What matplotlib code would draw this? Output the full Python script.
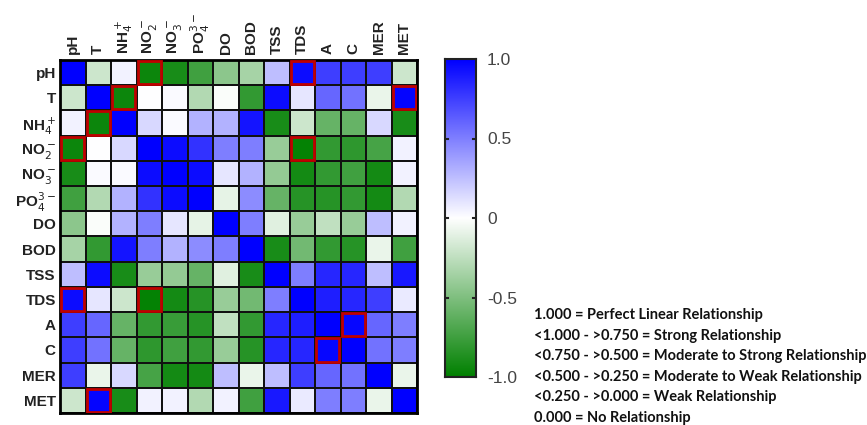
import numpy as np
import matplotlib
matplotlib.use("Agg")
import matplotlib.pyplot as plt
from matplotlib.colors import LinearSegmentedColormap
from matplotlib.patches import Rectangle

labels = ["pH", "T", "NH$_4^+$", "NO$_2^-$", "NO$_3^-$", "PO$_4^{3-}$", "DO", "BOD",
          "TSS", "TDS", "A", "C", "MER", "MET"]

r_pH  = [1.00, -0.20, 0.05, -0.95, -0.90, -0.75, -0.45, -0.35, 0.25, 0.95, 0.75, 0.75, 0.75, -0.20]
r_T   = [-0.20, 1.00, -0.95, 0.00, 0.02, -0.30, -0.02, -0.80, 0.95, 0.10, 0.60, 0.55, -0.08, 0.98]
r_NH4 = [0.05, -0.95, 1.00, 0.15, 0.02, 0.30, 0.30, 0.92, -0.90, -0.20, -0.60, -0.60, 0.15, -0.90]
r_NO2 = [-0.95, 0.00, 0.15, 1.00, 0.95, 0.80, 0.50, 0.50, -0.40, -0.98, -0.80, -0.82, -0.72, 0.05]
r_NO3 = [-0.90, 0.02, 0.02, 0.95, 1.00, 0.95, 0.10, 0.30, -0.42, -0.92, -0.80, -0.75, -0.92, 0.05]
r_PO4 = [-0.75, -0.30, 0.30, 0.80, 0.95, 1.00, -0.10, 0.45, -0.60, -0.85, -0.85, -0.80, -0.92, -0.30]
r_DO  = [-0.45, -0.02, 0.30, 0.50, 0.10, -0.10, 1.00, 0.50, -0.12, -0.40, -0.25, -0.40, 0.25, 0.05]
r_BOD = [-0.35, -0.80, 0.92, 0.50, 0.30, 0.45, 0.50, 1.00, -0.90, -0.55, -0.80, -0.85, -0.08, -0.75]
r_TSS = [0.25, 0.95, -0.90, -0.40, -0.42, -0.60, -0.12, -0.90, 1.00, 0.50, 0.85, 0.85, 0.25, 0.90]
r_TDS = [0.95, 0.10, -0.20, -0.98, -0.92, -0.85, -0.40, -0.55, 0.50, 1.00, 0.88, 0.85, 0.75, 0.08]
r_A   = [0.75, 0.60, -0.60, -0.80, -0.78, -0.85, -0.25, -0.80, 0.85, 0.88, 1.00, 0.97, 0.60, 0.50]
r_C   = [0.75, 0.55, -0.60, -0.82, -0.75, -0.80, -0.40, -0.85, 0.85, 0.85, 0.97, 1.00, 0.55, 0.50]
r_MER = [0.75, -0.08, 0.15, -0.72, -0.92, -0.92, 0.25, -0.08, 0.25, 0.75, 0.60, 0.55, 1.00, -0.08]
r_MET = [-0.20, 0.98, -0.90, 0.05, 0.05, -0.30, 0.05, -0.75, 0.90, 0.08, 0.50, 0.50, -0.08, 1.00]

# highlighted cells (row, col)
highlight = [(0, 3), (0, 9), (1, 2), (1, 13), (2, 1), (3, 0), (3, 9),
             (9, 0), (9, 3), (10, 11), (11, 10), (13, 1)]

legend_lines = ["1.000 = Perfect Linear Relationship",
                "<1.000 - >0.750 = Strong Relationship",
                "<0.750 - >0.500 = Moderate to Strong Relationship",
                "<0.500 - >0.250 = Moderate to Weak Relationship",
                "<0.250 - >0.000 = Weak Relationship",
                "0.000 = No Relationship"]

M = np.array([r_pH, r_T, r_NH4, r_NO2, r_NO3, r_PO4, r_DO, r_BOD,
              r_TSS, r_TDS, r_A, r_C, r_MER, r_MET])
n = len(labels)

cmap = LinearSegmentedColormap.from_list("gwb", [(0.0, "#008000"), (0.5, "#ffffff"), (1.0, "#0000ff")])

plt.rcParams['font.family'] = ['Liberation Sans', 'DejaVu Sans']
fig = plt.figure(figsize=(8.67, 4.25), dpi=100)
ax = fig.add_axes([60/867, 1-413/425, 357/867, 353/425])
mesh = ax.pcolormesh(np.arange(n+1), np.arange(n+1), M, cmap=cmap, vmin=-1, vmax=1,
                     edgecolors="#111111", linewidth=1.2)
ax.set_xlim(0, n)
ax.set_ylim(n, 0)
for (r, c) in highlight:
    ax.add_patch(Rectangle((c+0.04, r+0.04), 0.92, 0.92, fill=False, edgecolor="#c00000", lw=2.0, zorder=5))
ax.set_xticks(np.arange(n)+0.5)
ax.set_yticks(np.arange(n)+0.5)
ax.set_xticklabels(labels, rotation=90, fontsize=11, fontweight="bold", color="#222222")
ax.set_yticklabels(labels, fontsize=11, fontweight="bold", color="#222222")
ax.xaxis.tick_top()
ax.tick_params(axis="x", length=0, pad=4)
ax.tick_params(axis="y", length=0, pad=3)
for s in ax.spines.values():
    s.set_linewidth(2)
    s.set_color("black")

cax = fig.add_axes([445/867, 1-377/425, 31/867, 318/425])
grad = np.linspace(-1, 1, 256).reshape(-1, 1)
cax.imshow(grad, aspect="auto", cmap=cmap, vmin=-1, vmax=1, origin="lower", extent=[0, 1, -1, 1])
cax.set_xticks([])
cax.yaxis.tick_right()
cax.set_yticks([-1, -0.5, 0, 0.5, 1])
cax.set_yticklabels(["-1.0", "-0.5", "0", "0.5", "1.0"], fontsize=12.5, color="#444444")
cax.tick_params(axis="y", length=0, pad=8)
for yv in [-0.5, 0, 0.5]:
    cax.plot([0, 0.1], [yv, yv], color="#222222", lw=1.5)
    cax.plot([0.9, 1], [yv, yv], color="#222222", lw=1.5)
for s in cax.spines.values():
    s.set_linewidth(1.5)
    s.set_color("#222222")

y0 = 315
for i, t in enumerate(legend_lines):
    fig.text(534/867, 1-(y0 + i*20.6)/425, t, fontsize=10.5, fontweight="bold",
             family=["Lato", "DejaVu Sans"], va="center", ha="left", color="#111111")

fig.savefig("out.png", dpi=100)
